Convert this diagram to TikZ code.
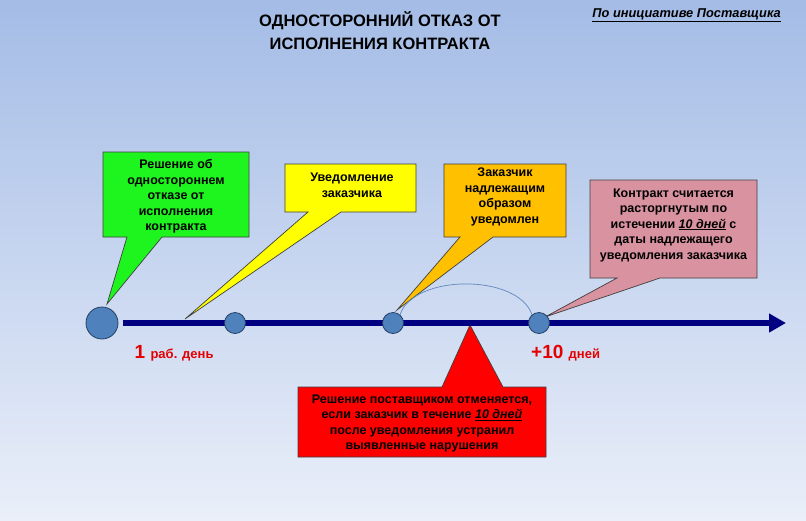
\documentclass[tikz,border=0pt]{standalone}
\usepackage{fontspec}
\setmainfont{Liberation Sans}
\usetikzlibrary{arrows.meta,calc}
\definecolor{bgtop}{RGB}{164,188,230}
\definecolor{bgbot}{RGB}{234,239,249}
\definecolor{navy}{RGB}{0,0,128}
\definecolor{dotfill}{RGB}{79,129,189}
\definecolor{dotline}{RGB}{37,64,100}
\definecolor{cgreen}{RGB}{30,245,30}
\definecolor{cyellow}{RGB}{255,255,0}
\definecolor{corange}{RGB}{255,192,0}
\definecolor{cpink}{RGB}{217,146,160}
\definecolor{cred}{RGB}{255,0,0}
\definecolor{labred}{RGB}{228,0,0}
\definecolor{arccol}{RGB}{95,135,190}
\tikzset{
  callout/.style={draw=black!75, line width=0.7pt, line join=miter},
  ctext/.style={font=\bfseries\fontsize{12.5}{15.5}\selectfont, align=center, inner sep=0pt, text=black},
  bigdot/.style={circle, minimum size=32pt, inner sep=0pt, fill=dotfill, draw=dotline, line width=0.8pt},
  smalldot/.style={circle, minimum size=21pt, inner sep=0pt, fill=dotfill, draw=dotline, line width=0.8pt},
  timeline/.style={navy, line width=6pt, -{Triangle[length=17pt,width=18pt]}},
  labtext/.style={anchor=base west, inner sep=0pt, text=labred, font=\bfseries},
  arcline/.style={arccol, line width=0.7pt}
}
\begin{document}
\begin{tikzpicture}[x=1pt,y=-1pt]
\useasboundingbox (0,0) rectangle (806,520);
\shade[top color=bgtop,bottom color=bgbot] (0,0) rectangle (806,520);

% tips of callouts
\coordinate (tipA) at (107,304);
\coordinate (tipB) at (185,319);
\coordinate (tipC) at (397,310);
\coordinate (tipD) at (545,317);
\coordinate (tipE) at (470,325);
\coordinate (t0) at (123,323);
\coordinate (t1) at (786,323);

% callouts
\filldraw[callout, fill=cgreen] (103,152) -- (249,152) -- (249,237) -- (162,237) -- (tipA) -- (127,237) -- (103,237) -- cycle;
\filldraw[callout, fill=cyellow] (285,164) -- (416,164) -- (416,212) -- (341,212) -- (tipB) -- (308,212) -- (285,212) -- cycle;
\filldraw[callout, fill=corange] (444,164) -- (566,164) -- (566,237) -- (493,237) -- (tipC) -- (460,237) -- (444,237) -- cycle;
\filldraw[callout, fill=cpink] (590,180) -- (757,180) -- (757,278) -- (660,278) -- (tipD) -- (617,278) -- (590,278) -- cycle;
\filldraw[callout, fill=cred] (298,387) -- (442,387) -- (tipE) -- (503,387) -- (546,387) -- (546,457) -- (298,457) -- cycle;

% timeline
\draw[timeline] (t0) -- (t1);
\node[bigdot] (a) at (102,323) {};
\node[smalldot] (b) at (235,323) {};
\node[smalldot] (c) at (393,323) {};
\node[smalldot] (d) at (539,323) {};
\draw[arcline] (c.50) .. controls +(14,-41) and +(-14,-41) .. (d.130);

% texts
\node[font=\bfseries\fontsize{16.5}{23}\selectfont, align=center, inner sep=0pt] (title) at (380,31) {ОДНОСТОРОННИЙ ОТКАЗ ОТ\\ИСПОЛНЕНИЯ КОНТРАКТА};
\node[font=\bfseries\itshape\fontsize{12.8}{14}\selectfont, anchor=east, inner sep=0pt] (init) at (781,15) {\underline{По инициативе Поставщика}};

\node[ctext] (ta) at (176,196.5) {Решение об\\одностороннем\\отказе от\\исполнения\\контракта};
\node[ctext] (tb) at (352,185.5) {Уведомление\\заказчика};
\node[ctext] (tc) at (505,197) {Заказчик\\надлежащим\\образом\\уведомлен};
\node[ctext] (td) at (673.5,225) {Контракт считается\\расторгнутым по\\истечении \underline{\textit{10 дней}} с\\даты надлежащего\\уведомления заказчика};
\node[ctext] (te) at (422,423.5) {Решение поставщиком отменяется,\\если заказчик в течение \underline{\textit{10 дней}}\\после уведомления устранил\\выявленные нарушения};

\node[labtext] (l1) at (134.5,358) {\fontsize{19}{19}\selectfont 1 \fontsize{13}{13}\selectfont раб. день};
\node[labtext] (l2) at (531,358) {\fontsize{19}{19}\selectfont +10 \fontsize{13}{13}\selectfont дней};
\end{tikzpicture}
\end{document}
